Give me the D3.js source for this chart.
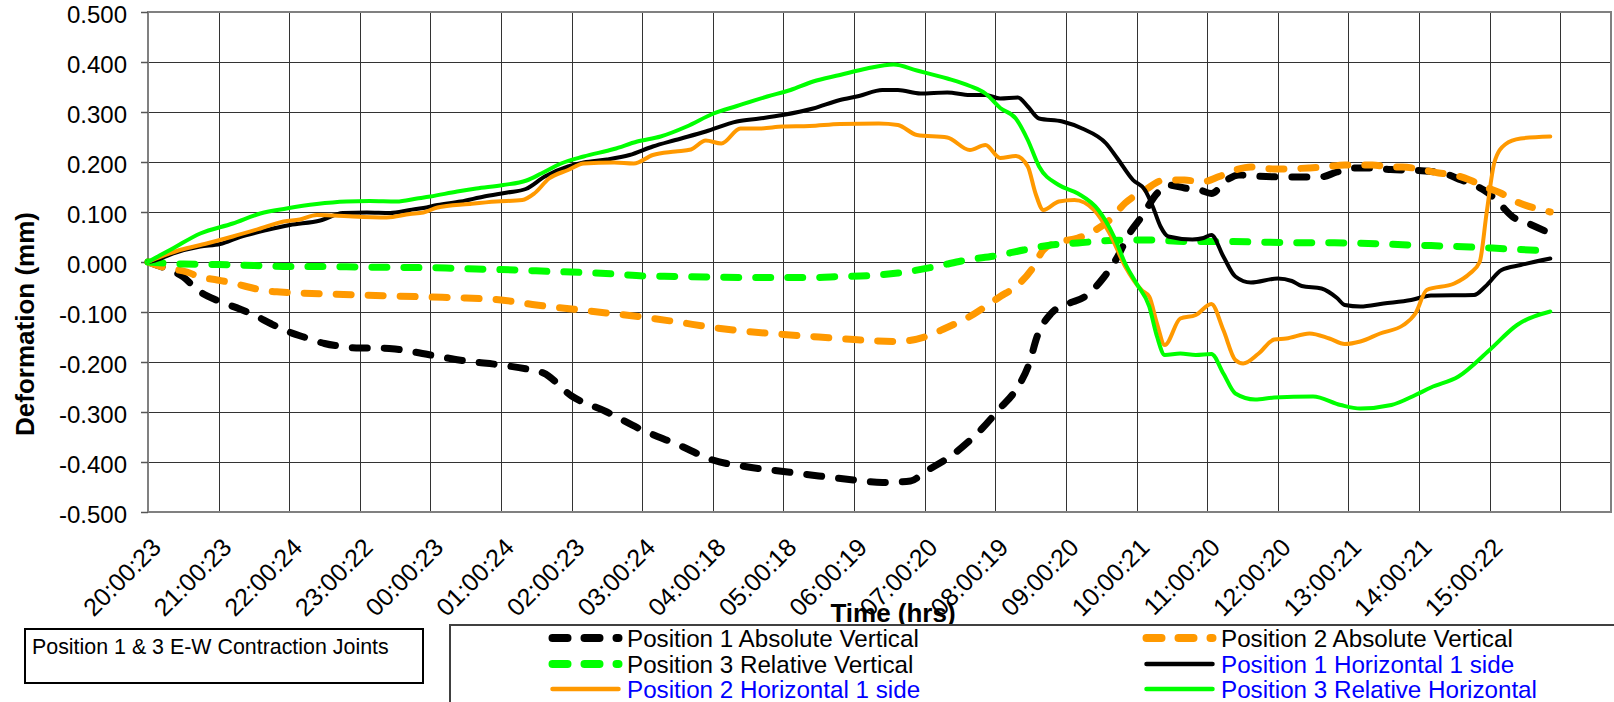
<!DOCTYPE html>
<html>
<head>
<meta charset="utf-8">
<script src="https://cdn.jsdelivr.net/npm/d3@7"></script>
<style>
  html, body { margin: 0; padding: 0; background: #fff; }
  svg { display: block; font-family: "Liberation Sans", Arial, sans-serif; }
</style>
</head>
<body>
<svg id="chart" width="1614" height="702"></svg>
<script>
// Elapsed hours since 20:00:23 for the category ticks, and their labels
const timeLabels = ["20:00:23","21:00:23","22:00:24","23:00:22","00:00:23","01:00:24","02:00:23",
  "03:00:24","04:00:18","05:00:18","06:00:19","07:00:20","08:00:19","09:00:20","10:00:21",
  "11:00:20","12:00:20","13:00:21","14:00:21","15:00:22"];
const yTicks = [-0.5,-0.4,-0.3,-0.2,-0.1,0,0.1,0.2,0.3,0.4,0.5];

// Each series: [elapsed hours, deformation (mm)]
const p1AbsVertical = [[0,0],[0.2,-0.01],[0.35,-0.018],[0.5,-0.03],[0.7,-0.056],[1.0,-0.078],[1.3,-0.094],
  [1.5,-0.106],[1.75,-0.124],[2.0,-0.14],[2.25,-0.152],[2.5,-0.163],[2.75,-0.169],[3.0,-0.172],[3.25,-0.172],
  [3.5,-0.174],[4.0,-0.186],[4.5,-0.198],[5.0,-0.206],[5.4,-0.215],[5.6,-0.222],[6.0,-0.268],[6.5,-0.30],
  [7.0,-0.336],[7.5,-0.365],[8.0,-0.396],[8.5,-0.41],[9.0,-0.419],[9.5,-0.428],[10.0,-0.436],[10.4,-0.441],
  [10.8,-0.438],[11.0,-0.42],[11.4,-0.385],[11.8,-0.335],[12.07,-0.292],[12.29,-0.256],[12.48,-0.203],
  [12.59,-0.15],[12.79,-0.103],[13.04,-0.083],[13.26,-0.07],[13.54,-0.03],[13.73,0.01],[13.9,0.057],
  [14.07,0.09],[14.29,0.137],[14.45,0.154],[14.68,0.148],[14.9,0.144],[15.06,0.137],[15.28,0.164],
  [15.45,0.174],[15.67,0.172],[16.17,0.17],[16.6,0.17],[16.84,0.18],[17.06,0.188],[17.3,0.188],[17.6,0.185],
  [17.97,0.183],[18.33,0.178],[18.6,0.164],[18.78,0.154],[18.99,0.137],[19.14,0.117],[19.33,0.09],
  [19.55,0.077],[19.86,0.057]];

const p2AbsVertical = [[0,0],[0.2,-0.01],[0.55,-0.02],[0.74,-0.03],[0.98,-0.036],[1.2,-0.042],[1.42,-0.05],
  [1.69,-0.058],[1.87,-0.06],[2.15,-0.062],[2.6,-0.064],[3.03,-0.066],[3.5,-0.068],[4.0,-0.07],[4.5,-0.072],
  [5.0,-0.076],[5.5,-0.086],[6.0,-0.094],[6.5,-0.102],[7.0,-0.11],[7.5,-0.12],[8.0,-0.131],[8.5,-0.139],
  [9.0,-0.145],[9.5,-0.15],[10.0,-0.155],[10.6,-0.159],[11.0,-0.15],[11.3,-0.132],[11.6,-0.112],
  [12.07,-0.069],[12.29,-0.049],[12.51,-0.016],[12.68,0.024],[12.85,0.038],[13.17,0.048],[13.34,0.058],
  [13.62,0.084],[13.84,0.118],[14.12,0.144],[14.4,0.164],[14.68,0.164],[14.92,0.16],[15.17,0.171],
  [15.4,0.184],[15.62,0.19],[15.95,0.186],[16.44,0.188],[16.67,0.19],[16.95,0.194],[17.34,0.194],
  [17.61,0.19],[17.77,0.19],[18.06,0.184],[18.28,0.178],[18.5,0.174],[18.72,0.164],[18.94,0.15],
  [19.17,0.137],[19.33,0.124],[19.74,0.104],[19.86,0.1]];

const p3RelVertical = [[0,0],[0.5,-0.004],[1.0,-0.005],[1.5,-0.007],[2.0,-0.009],[2.5,-0.009],[3.0,-0.01],
  [3.73,-0.011],[4.22,-0.012],[4.65,-0.014],[5.2,-0.016],[5.74,-0.019],[6.17,-0.021],[6.6,-0.024],
  [7.04,-0.028],[7.47,-0.029],[7.9,-0.03],[8.44,-0.031],[8.99,-0.031],[9.42,-0.031],[9.8,-0.029],
  [10.24,-0.027],[10.62,-0.022],[11.16,-0.009],[11.59,0.004],[12.03,0.013],[12.4,0.024],[12.79,0.034],
  [13.17,0.038],[13.62,0.043],[14.18,0.044],[14.73,0.041],[15.17,0.041],[16.06,0.039],[17.05,0.038],
  [17.89,0.034],[18.73,0.03],[19.28,0.026],[19.86,0.022]];

const p1Horizontal = [[0,0],[0.1,0.003],[0.35,0.017],[0.74,0.031],[1.02,0.036],[1.3,0.05],[1.68,0.064],
  [2.01,0.074],[2.44,0.083],[2.76,0.098],[3.1,0.099],[3.43,0.098],[3.71,0.104],[3.9,0.108],[4.1,0.114],
  [4.43,0.121],[4.76,0.131],[5.09,0.139],[5.35,0.146],[5.62,0.171],[5.95,0.191],[6.17,0.199],[6.5,0.205],
  [6.82,0.214],[7.15,0.231],[7.47,0.244],[7.9,0.261],[8.34,0.281],[8.66,0.287],[8.99,0.294],[9.42,0.307],
  [9.8,0.324],[10.07,0.332],[10.4,0.344],[10.62,0.344],[10.94,0.337],[11.32,0.339],[11.64,0.334],
  [11.86,0.334],[12.07,0.327],[12.32,0.329],[12.46,0.311],[12.62,0.287],[12.95,0.281],[13.23,0.267],
  [13.57,0.237],[13.73,0.207],[13.95,0.164],[14.12,0.144],[14.23,0.111],[14.34,0.071],[14.45,0.051],
  [14.79,0.045],[14.95,0.048],[15.06,0.054],[15.23,0.011],[15.4,-0.029],[15.62,-0.041],[16.0,-0.033],
  [16.2,-0.038],[16.34,-0.048],[16.62,-0.053],[16.84,-0.072],[16.95,-0.086],[17.17,-0.089],[17.5,-0.083],
  [17.89,-0.076],[18.17,-0.067],[18.78,-0.066],[18.94,-0.049],[19.17,-0.016],[19.44,-0.006],[19.86,0.007]];

const p2Horizontal = [[0,0],[0.1,0.006],[0.45,0.024],[0.83,0.037],[1.2,0.051],[1.59,0.067],[1.92,0.081],
  [2.15,0.085],[2.39,0.094],[2.63,0.093],[2.9,0.091],[3.38,0.089],[3.71,0.096],[3.9,0.099],[4.1,0.109],
  [4.55,0.116],[4.93,0.121],[5.3,0.124],[5.47,0.137],[5.68,0.167],[5.95,0.184],[6.17,0.197],[6.6,0.199],
  [6.88,0.197],[7.15,0.214],[7.47,0.221],[7.69,0.225],[7.9,0.243],[8.12,0.237],[8.39,0.267],[8.66,0.267],
  [8.99,0.271],[9.37,0.272],[9.8,0.276],[10.35,0.277],[10.62,0.274],[10.89,0.254],[11.32,0.249],
  [11.64,0.224],[11.86,0.234],[12.07,0.208],[12.29,0.212],[12.46,0.191],[12.57,0.137],[12.68,0.104],
  [12.9,0.121],[13.12,0.124],[13.4,0.104],[13.62,0.057],[13.84,-0.009],[14.07,-0.056],[14.18,-0.069],
  [14.29,-0.123],[14.4,-0.166],[14.62,-0.113],[14.84,-0.106],[15.06,-0.084],[15.23,-0.136],[15.4,-0.196],
  [15.51,-0.203],[15.73,-0.183],[15.95,-0.155],[16.12,-0.153],[16.45,-0.143],[16.73,-0.153],[16.95,-0.164],
  [17.17,-0.159],[17.45,-0.143],[17.78,-0.126],[17.95,-0.103],[18.11,-0.056],[18.5,-0.043],[18.72,-0.023],
  [18.86,0.0],[18.96,0.1],[19.07,0.2],[19.22,0.235],[19.44,0.247],[19.86,0.251]];

const p3RelHorizontal = [[0,0],[0.1,0.008],[0.35,0.027],[0.74,0.057],[1.2,0.077],[1.59,0.097],[1.96,0.107],
  [2.39,0.116],[2.81,0.121],[3.14,0.122],[3.52,0.121],[3.81,0.127],[4.0,0.131],[4.38,0.141],[4.65,0.147],
  [5.03,0.154],[5.36,0.163],[5.57,0.177],[5.85,0.197],[6.17,0.211],[6.6,0.226],[6.93,0.241],[7.26,0.251],
  [7.63,0.271],[8.01,0.297],[8.34,0.312],[8.77,0.331],[9.1,0.344],[9.42,0.361],[9.8,0.374],[10.18,0.387],
  [10.56,0.395],[10.89,0.383],[11.32,0.367],[11.64,0.352],[11.86,0.337],[12.07,0.308],[12.29,0.287],
  [12.46,0.244],[12.62,0.191],[12.9,0.154],[13.17,0.137],[13.46,0.104],[13.68,0.051],[13.84,-0.003],
  [14.0,-0.043],[14.18,-0.089],[14.29,-0.149],[14.4,-0.186],[14.62,-0.183],[14.84,-0.186],[15.06,-0.184],
  [15.23,-0.223],[15.4,-0.263],[15.68,-0.275],[15.95,-0.271],[16.5,-0.269],[16.89,-0.286],[17.17,-0.293],
  [17.61,-0.286],[17.95,-0.266],[18.17,-0.251],[18.56,-0.229],[19.0,-0.176],[19.39,-0.126],[19.86,-0.099]];

const seriesNames = ["Position 1 Absolute Vertical","Position 2 Absolute Vertical","Position 3 Relative Vertical",
  "Position 1 Horizontal 1 side","Position 2 Horizontal 1 side","Position 3 Relative Horizontal"];
const seriesData = [p1AbsVertical, p2AbsVertical, p3RelVertical, p1Horizontal, p2Horizontal, p3RelHorizontal];
const seriesColors = ["#000000","#FF9900","#00FF00","#000000","#FF9900","#00FF00"];
const seriesDashed = [true, true, true, false, false, false];
const labelColors = ["#000000","#000000","#000000","#0000FF","#0000FF","#0000FF"];

const svg = d3.select("#chart");
const plot = { left: 148, top: 12, right: 1611, bottom: 512 };

const x = d3.scaleLinear().domain([0, 20.72]).range([plot.left, plot.right]);
const y = d3.scaleLinear().domain([-0.5, 0.5]).range([plot.bottom, plot.top]);

// grid
const grid = svg.append("g").attr("shape-rendering", "crispEdges");
grid.selectAll("line.v").data(d3.range(1, 21)).join("line")
  .attr("x1", d => Math.round(x(d)) + 0.5).attr("x2", d => Math.round(x(d)) + 0.5)
  .attr("y1", plot.top).attr("y2", plot.bottom)
  .attr("stroke", "#333").attr("stroke-width", 1);
grid.selectAll("line.h").data(yTicks.slice(1, -1)).join("line")
  .attr("x1", plot.left).attr("x2", plot.right)
  .attr("y1", d => Math.round(y(d)) + 0.5).attr("y2", d => Math.round(y(d)) + 0.5)
  .attr("stroke", "#333").attr("stroke-width", 1);

// plot frame
svg.append("rect")
  .attr("x", plot.left).attr("y", plot.top)
  .attr("width", plot.right - plot.left).attr("height", plot.bottom - plot.top)
  .attr("fill", "none").attr("stroke", "#808080").attr("stroke-width", 2);

// y axis
const yAxis = svg.append("g")
  .attr("transform", `translate(${plot.left},0)`)
  .call(d3.axisLeft(y).tickValues(yTicks).tickSize(7).tickPadding(14)
    .tickFormat(v => (Math.round(v * 1000) / 1000).toFixed(3)));
yAxis.select(".domain").remove();
yAxis.selectAll("line").attr("stroke", "#555").attr("stroke-width", 1.5);
yAxis.selectAll("text").attr("font-size", 24).attr("fill", "#000").attr("dy", "0.42em")
  .attr("font-family", "'Liberation Sans', Arial, sans-serif");

// x axis labels
const xAxis = svg.append("g")
  .attr("transform", `translate(0,${plot.bottom})`)
  .call(d3.axisBottom(x).tickValues(d3.range(0, timeLabels.length)).tickSize(0)
    .tickFormat(i => timeLabels[i]));
xAxis.select(".domain").remove();
xAxis.selectAll("text")
  .attr("y", null).attr("dy", null).attr("x", null)
  .attr("text-anchor", "end")
  .attr("transform", "translate(14,37) rotate(-45)")
  .attr("font-size", 25).attr("fill", "#000")
  .attr("font-family", "'Liberation Sans', Arial, sans-serif");

// series
const line = d3.line().x(d => x(d[0])).y(d => y(d[1])).curve(d3.curveMonotoneX);
const lines = svg.append("g").attr("fill", "none");
seriesData.forEach((data, i) => {
  const p = lines.append("path").attr("d", line(data))
    .attr("stroke", seriesColors[i])
    .attr("stroke-linejoin", "round");
  if (seriesDashed[i]) {
    p.attr("stroke-width", 7).attr("stroke-dasharray", "15,17").attr("stroke-linecap", "round");
  } else {
    p.attr("stroke-width", 4).attr("stroke-linecap", "round");
  }
});

// axis titles
svg.append("text")
  .attr("transform", "translate(34,324) rotate(-90)")
  .attr("text-anchor", "middle")
  .attr("font-size", 26).attr("font-weight", "bold")
  .text("Deformation (mm)");

svg.append("text")
  .attr("x", 893).attr("y", 622)
  .attr("text-anchor", "middle")
  .attr("font-size", 26).attr("font-weight", "bold")
  .text("Time (hrs)");

// note box
svg.append("rect")
  .attr("x", 25).attr("y", 629).attr("width", 398).attr("height", 54)
  .attr("fill", "#fff").attr("stroke", "#000").attr("stroke-width", 2);
svg.append("text")
  .attr("x", 32).attr("y", 654)
  .attr("font-size", 21.4)
  .text("Position 1 & 3 E-W Contraction Joints");

// legend
const legend = svg.append("g");
legend.append("rect")
  .attr("x", 450).attr("y", 625).attr("width", 1180).attr("height", 100)
  .attr("fill", "#fff").attr("stroke", "#404040").attr("stroke-width", 2);

const legendRows = [638, 664, 689];
const legendCols = [{ x0: 552.5, x1: 618.5, tx: 627 }, { x0: 1146.5, x1: 1212.5, tx: 1221 }];
seriesNames.forEach((name, i) => {
  const row = Math.floor(i / 2), col = i % 2;
  const cy = legendRows[row], c = legendCols[col];
  const s = legend.append("line")
    .attr("x1", c.x0).attr("x2", c.x1).attr("y1", cy).attr("y2", cy)
    .attr("stroke", seriesColors[i]).attr("stroke-linecap", "round");
  if (seriesDashed[i]) s.attr("stroke-width", 8).attr("stroke-dasharray", "15,17");
  else s.attr("stroke-width", 4.5);
  legend.append("text")
    .attr("x", c.tx).attr("y", cy).attr("dominant-baseline", "central")
    .attr("font-size", 24.2).attr("fill", labelColors[i])
    .text(name);
});
</script>
</body>
</html>
